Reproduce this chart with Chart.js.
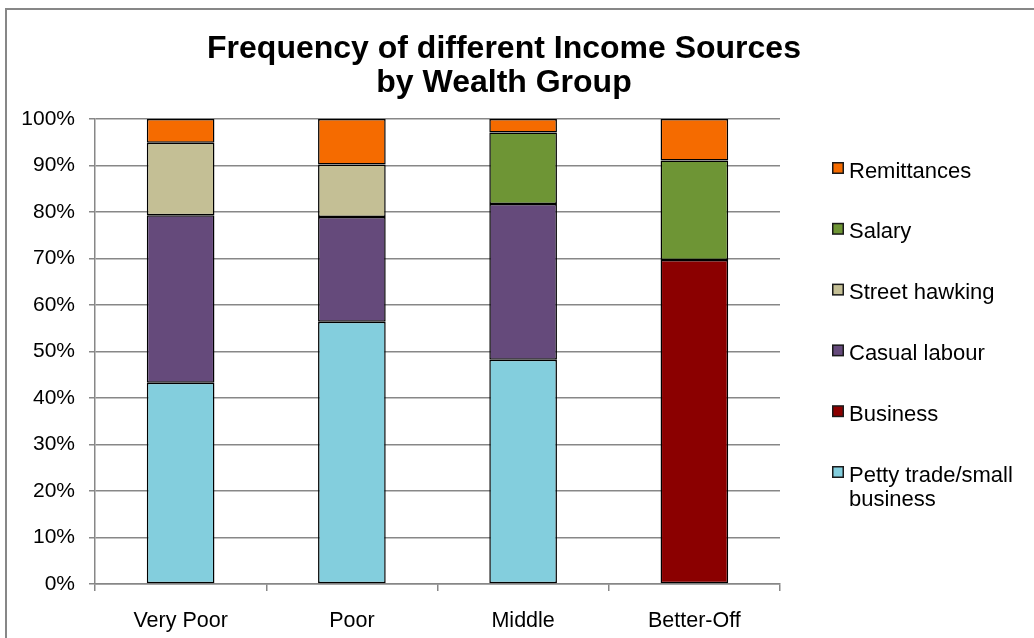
<!DOCTYPE html>
<html>
<head>
<meta charset="utf-8">
<title>Frequency of different Income Sources by Wealth Group</title>
<script src="https://cdn.jsdelivr.net/npm/chart.js@4.4.1/dist/chart.umd.min.js"></script>
<style>
  html, body { margin: 0; padding: 0; background: #ffffff; }
  #wrap { position: relative; width: 1034px; height: 638px; overflow: hidden; }
  #frame { position: absolute; left: 5px; top: 8px; width: 1100px; height: 700px;
           border-top: 2px solid #878787; border-left: 2px solid #878787; }
  #c { position: absolute; left: 0; top: 0; }
</style>
</head>
<body>
<div id="wrap">
  <div id="frame"></div>
  <canvas id="c" width="1034" height="638"></canvas>
</div>
<script>
// Wealth groups along the x axis
const groups = ['Very Poor', 'Poor', 'Middle', 'Better-Off'];

// Share of households (%) citing each income source, stacked bottom to top
const pettyTrade    = [43.3, 56.4, 48.2, 0];
const business      = [0, 0, 0, 69.7];
const casualLabour  = [36.0, 22.5, 33.5, 0];
const streetHawking = [15.6, 11.3, 0, 0];
const salary        = [0, 0, 15.4, 21.4];
const remittances   = [5.1, 9.8, 2.9, 8.9];

const titleLines = ['Frequency of different Income Sources', 'by Wealth Group'];
const yTicks = [0, 10, 20, 30, 40, 50, 60, 70, 80, 90, 100];

const FONT = "'Liberation Sans', Arial, Helvetica, sans-serif";
const GRID = '#878787';

const series = [
  { label: 'Petty trade/small business', data: pettyTrade,    color: '#83CEDD' },
  { label: 'Business',                   data: business,      color: '#8B0000' },
  { label: 'Casual labour',              data: casualLabour,  color: '#654A7B' },
  { label: 'Street hawking',             data: streetHawking, color: '#C4BF95' },
  { label: 'Salary',                     data: salary,        color: '#6E9535' },
  { label: 'Remittances',                data: remittances,   color: '#F56B00' }
];

// Two-line bold title centred above the plot
const titlePlugin = {
  id: 'twoLineTitle',
  afterDraw(chart) {
    const ctx = chart.ctx;
    ctx.save();
    ctx.fillStyle = '#000';
    ctx.font = 'bold 32px ' + FONT;
    ctx.textAlign = 'center';
    ctx.textBaseline = 'alphabetic';
    titleLines.forEach((t, i) => ctx.fillText(t, 504, 58 + i * 34));
    ctx.restore();
  }
};

// Legend on the right, listed top-down from the last stacked series
const legendPlugin = {
  id: 'sideLegend',
  afterDraw(chart) {
    const ctx = chart.ctx;
    const ds = chart.data.datasets.slice().reverse();
    const boxX = 832, textX = 849, firstBase = 177.5, rowGap = 60.8, lineGap = 24.5, maxW = 178;
    ctx.save();
    ctx.font = '22px ' + FONT;
    ctx.textAlign = 'left';
    ctx.textBaseline = 'alphabetic';
    ds.forEach((d, i) => {
      const base = firstBase + i * rowGap;
      // swatch
      ctx.fillStyle = '#1a1a1a';
      ctx.fillRect(boxX, base - 15.5, 12, 12);
      ctx.fillStyle = d.backgroundColor;
      ctx.fillRect(boxX + 1.5, base - 14, 9, 9);
      // wrapped label
      const words = d.label.split(' ');
      const lines = [];
      let cur = '';
      words.forEach(w => {
        const test = cur ? cur + ' ' + w : w;
        if (cur && ctx.measureText(test).width > maxW) { lines.push(cur); cur = w; }
        else cur = test;
      });
      lines.push(cur);
      ctx.fillStyle = '#000';
      lines.forEach((ln, k) => ctx.fillText(ln, textX, base + k * lineGap));
    });
    ctx.restore();
  }
};

new Chart(document.getElementById('c'), {
  type: 'bar',
  data: {
    labels: groups,
    datasets: series.map(s => ({
      label: s.label,
      data: s.data,
      backgroundColor: s.color,
      borderColor: '#000000',
      borderWidth: 1.5,
      borderSkipped: false,
      categoryPercentage: 1,
      barPercentage: 0.395
    }))
  },
  options: {
    responsive: false,
    animation: false,
    devicePixelRatio: 1,
    layout: { padding: { left: 0, top: 119, right: 254, bottom: 0 } },
    plugins: {
      legend: { display: false },
      title: { display: false },
      tooltip: { enabled: false }
    },
    scales: {
      x: {
        stacked: true,
        afterFit(scale) { scale.height = 54; },
        grid: { display: true, drawOnChartArea: false, drawTicks: true, tickLength: 7,
                offset: true, color: GRID, lineWidth: 1.5 },
        border: { display: true, color: GRID, width: 1.5 },
        ticks: { color: '#000', font: { family: FONT, size: 21.5 }, padding: 17 }
      },
      y: {
        stacked: true,
        min: 0,
        max: 100,
        afterFit(scale) { scale.width = 95; },
        afterBuildTicks(scale) { scale.ticks = yTicks.map(v => ({ value: v })); },
        grid: { color: GRID, lineWidth: 1.5, drawTicks: true, tickLength: 6 },
        border: { display: true, color: GRID, width: 1.5 },
        ticks: {
          color: '#000',
          font: { family: FONT, size: 21 },
          padding: 14,
          callback: v => v + '%'
        }
      }
    }
  },
  plugins: [titlePlugin, legendPlugin]
});
</script>
</body>
</html>
